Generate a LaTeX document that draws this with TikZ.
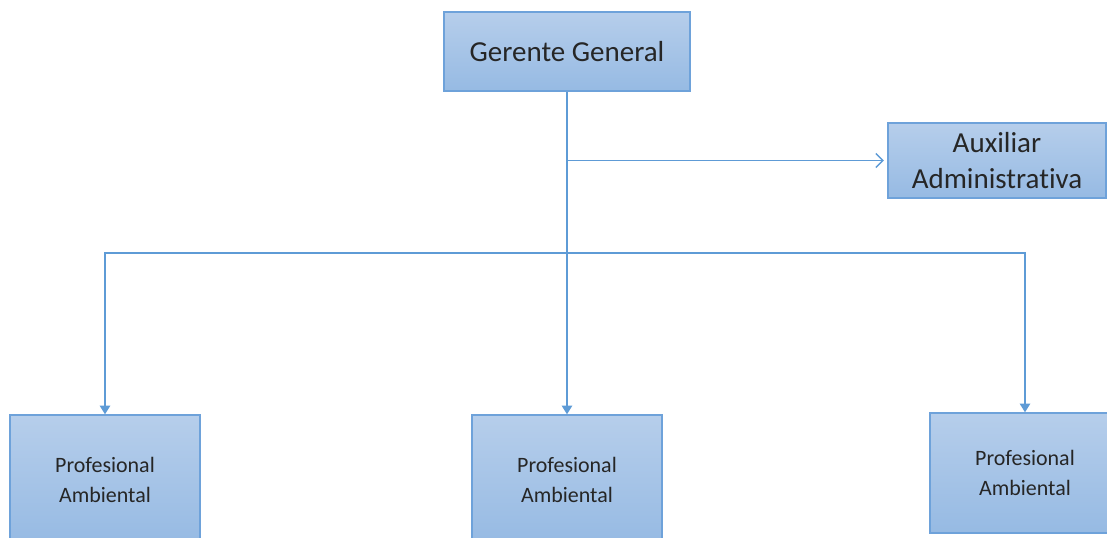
\documentclass[tikz,border=0pt]{standalone}
\usepackage{fontspec}
\setmainfont{Carlito}[Ligatures={NoCommon}]
\usetikzlibrary{arrows.meta}
\definecolor{boxtop}{HTML}{B6CEEB}
\definecolor{boxbot}{HTML}{96BAE3}
\definecolor{boxline}{HTML}{6EA2DA}
\definecolor{linkline}{HTML}{5E9BD6}
\begin{document}
\begin{tikzpicture}
[x=0.02cm,y=-0.02cm,
  boxdecorate/.style={shape=rectangle,draw=boxline,thick,top color=boxtop,bottom color=boxbot,
    align=center,inner sep=0pt,text=black!85},%
  linkdecorate/.style={color=linkline,thick},%
  downarrow/.style={-{Triangle[length=5pt,width=6pt]}},%
  sidearrow/.style={-{Straight Barb[length=4pt,width=8pt]}}]
\useasboundingbox (0,0) rectangle (1107,538);
\clip (0,0) rectangle (1107,538);
%% boxes
\node (gg) at (567,51.5) [boxdecorate,minimum width=4.92cm,minimum height=1.58cm,font=\fontsize{16.5}{20}\selectfont] {Gerente General};
\node (aux) at (997,160.5) [boxdecorate,minimum width=4.36cm,minimum height=1.5cm,font=\fontsize{16.5}{20.5}\selectfont] {Auxiliar\\Administrativa};
\foreach \nodename/\x/\y/\h in {p1/105/480/130, p2/567/480/130, p3/1025/473/120} {
  \node (\nodename) at (\x,\y) [boxdecorate,minimum width=3.8cm,minimum height=\h*0.02cm,font=\fontsize{12.5}{17}\selectfont] {Profesional\\Ambiental};
}
%% lines
\coordinate (bar) at (567,253);
\path[linkdecorate]
  (gg) edge[downarrow] (p2)
  (gg.south |- aux) edge[sidearrow] ([xshift=-2pt]aux.west);
\draw[linkdecorate,downarrow] (bar) -| (p1);
\draw[linkdecorate,downarrow] (bar) -| (p3);
\end{tikzpicture}
\end{document}
